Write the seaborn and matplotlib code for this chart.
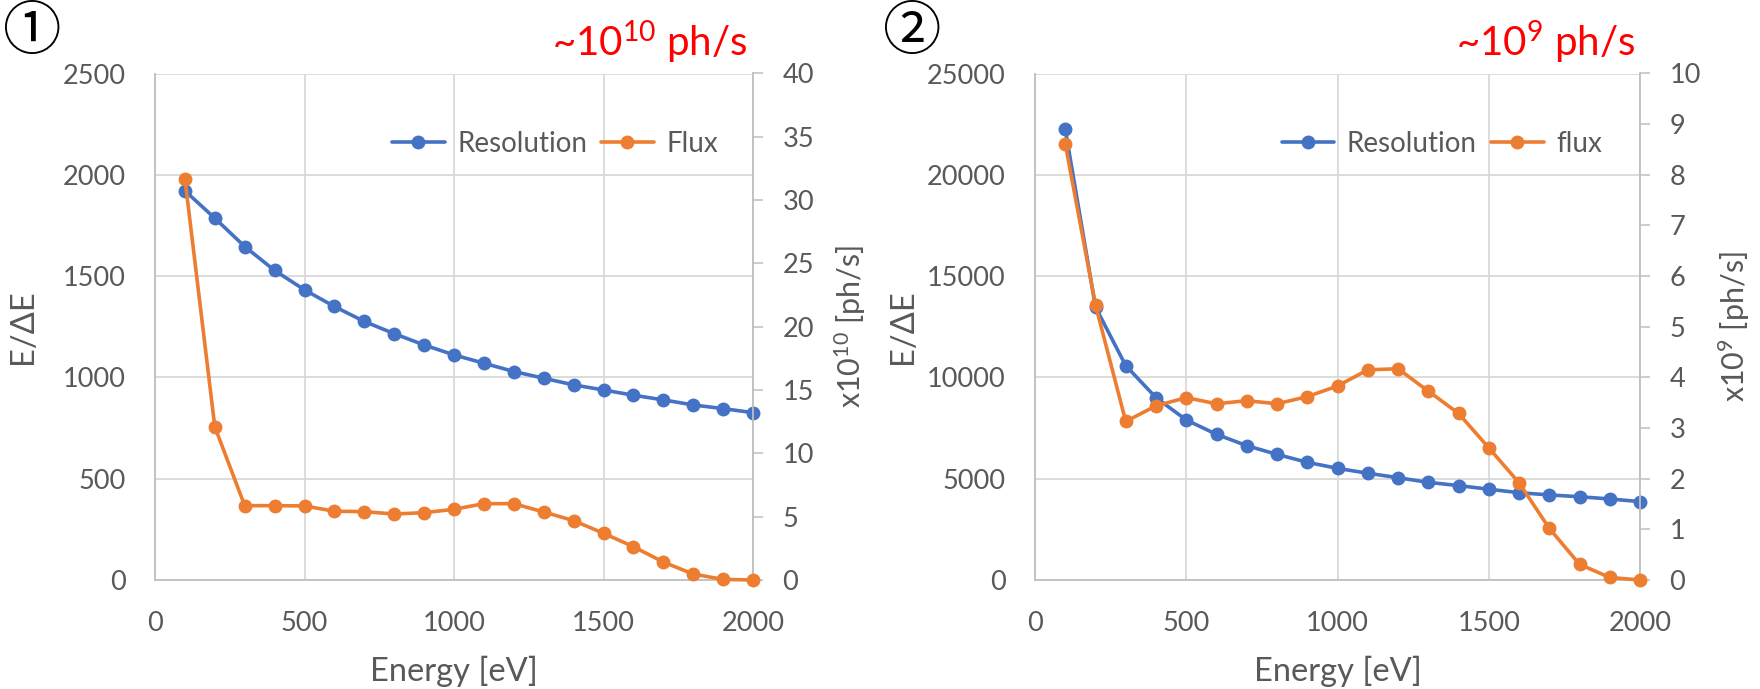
import matplotlib
matplotlib.use("Agg")
import matplotlib.pyplot as plt
import seaborn as sns
import pandas as pd
from matplotlib.lines import Line2D

# ---------------- data ----------------
energy = [100, 200, 300, 400, 500, 600, 700, 800, 900, 1000,
          1100, 1200, 1300, 1400, 1500, 1600, 1700, 1800, 1900, 2000]

res1 = [1921, 1786, 1646, 1528, 1432, 1350, 1276, 1216, 1160, 1111,
        1070, 1029, 996, 963, 938, 912, 889, 864, 846, 826]
flux1 = [31.7, 12.1, 5.87, 5.87, 5.85, 5.43, 5.40, 5.21, 5.32, 5.58,
         6.03, 6.03, 5.37, 4.69, 3.69, 2.63, 1.42, 0.47, 0.05, 0.0]

res2 = [22250, 13470, 10580, 9000, 7900, 7190, 6630, 6200, 5810, 5510,
        5270, 5050, 4820, 4660, 4480, 4310, 4200, 4110, 4000, 3870]
flux2 = [8.61, 5.43, 3.13, 3.44, 3.60, 3.48, 3.54, 3.48, 3.62, 3.83,
         4.15, 4.17, 3.73, 3.29, 2.61, 1.92, 1.02, 0.31, 0.05, 0.0]

xticks = [0, 500, 1000, 1500, 2000]
yticks1 = [0, 500, 1000, 1500, 2000, 2500]
yticks1r = [0, 5, 10, 15, 20, 25, 30, 35, 40]
yticks2 = [0, 5000, 10000, 15000, 20000, 25000]
yticks2r = list(range(0, 11))

panel_marks = ["①", "②"]
red_notes = ["~10$^{10}$ ph/s", "~10$^{9}$ ph/s"]
right_labels = ["x10$^{10}$ [ph/s]", "x10$^{9}$ [ph/s]"]
legend_names = [("Resolution", "Flux"), ("Resolution", "flux")]

# ---------------- style ----------------
sns.set_theme(style="white")
plt.rcParams["font.family"] = ["Lato", "DejaVu Sans"]
plt.rcParams["mathtext.fontset"] = "custom"
plt.rcParams["mathtext.rm"] = "Lato"
plt.rcParams["mathtext.it"] = "Lato:italic"
plt.rcParams["mathtext.bf"] = "Lato:bold"

BLUE = "#4472C4"
ORANGE = "#ED7D31"
TXT = "#595959"
GRID = "#D9D9D9"
SPINE = "#BFBFBF"
TICK_FS = 19.5
LEG_FS = 20
LAB_FS = 23.5

W, H = 1760, 689
fig = plt.figure(figsize=(W / 100, H / 100), dpi=100)

panels = [
    dict(left=155, right=753, res=res1, flux=flux1, yt=yticks1, ytr=yticks1r,
         mark_x=32),
    dict(left=1035, right=1640, res=res2, flux=flux2, yt=yticks2, ytr=yticks2r,
         mark_x=912),
]
top_px, bot_px = 73.5, 580

for i, p in enumerate(panels):
    ax = fig.add_axes([p["left"] / W, 1 - bot_px / H,
                       (p["right"] - p["left"]) / W, (bot_px - top_px) / H])
    axr = ax.twinx()

    df = pd.DataFrame({"Energy": energy, "res": p["res"], "flux": p["flux"]})
    sns.lineplot(data=df, x="Energy", y="res", ax=ax, color=BLUE, marker="o",
                 markersize=10, markeredgewidth=0, linewidth=2.6,
                 clip_on=False, zorder=5)
    sns.lineplot(data=df, x="Energy", y="flux", ax=axr, color=ORANGE, marker="o",
                 markersize=10, markeredgewidth=0, linewidth=2.6,
                 clip_on=False, zorder=5)

    ax.set_xlim(0, 2000)
    ax.set_ylim(p["yt"][0], p["yt"][-1])
    axr.set_ylim(p["ytr"][0], p["ytr"][-1])
    ax.set_xticks(xticks)
    ax.set_yticks(p["yt"])
    axr.set_yticks(p["ytr"])

    ax.grid(True, color=GRID, linewidth=1.3)
    ax.set_axisbelow(True)
    axr.grid(False)

    ax.spines["top"].set_visible(False)
    axr.spines["top"].set_visible(False)
    for s in ["left", "bottom"]:
        ax.spines[s].set_color(SPINE)
        ax.spines[s].set_linewidth(1.3)
    ax.spines["right"].set_visible(False)
    axr.spines["left"].set_visible(False)
    axr.spines["bottom"].set_visible(False)
    axr.spines["right"].set_color(SPINE)
    axr.spines["right"].set_linewidth(1.3)

    ax.tick_params(axis="y", length=0, pad=21, labelsize=TICK_FS, labelcolor=TXT)
    ax.tick_params(axis="x", length=0, pad=22, labelsize=TICK_FS, labelcolor=TXT)
    axr.tick_params(axis="y", length=7.2, width=1.1, color=SPINE, pad=14,
                    labelsize=TICK_FS, labelcolor=TXT, direction="out")

    ax.set_xlabel("Energy [eV]", fontsize=LAB_FS, color=TXT)
    ax.xaxis.set_label_coords(0.5, -(671 - bot_px) / (bot_px - top_px))
    ax.xaxis.label.set_va("center")
    ax.set_ylabel("E/ΔE", fontsize=LAB_FS, color=TXT)
    ax.yaxis.set_label_coords(-(p["left"] - (38 if i == 0 else 918)) /
                              (p["right"] - p["left"]), 0.5)
    axr.set_ylabel(right_labels[i], fontsize=LAB_FS - 1.5, color=TXT)
    axr.yaxis.set_label_coords(1 + ((832 if i == 0 else 1716) - p["right"]) /
                               (p["right"] - p["left"]), 0.5)

    handles = [
        Line2D([], [], color=BLUE, marker="o", markersize=10, markeredgewidth=0,
               linewidth=2.6),
        Line2D([], [], color=ORANGE, marker="o", markersize=10, markeredgewidth=0,
               linewidth=2.6),
    ]
    if ax.get_legend():
        ax.get_legend().remove()
    if axr.get_legend():
        axr.get_legend().remove()
    axr.legend(handles, legend_names[i], ncol=2, frameon=False,
               fontsize=LEG_FS, labelcolor=TXT, handlelength=1.9,
               handletextpad=0.45, columnspacing=0.5,
               loc="center right",
               bbox_to_anchor=(((1602 if i else 718) - p["left"]) /
                               (p["right"] - p["left"]),
                               (bot_px - 144) / (bot_px - top_px)),
               borderaxespad=0, borderpad=0)

    fig.text(p["mark_x"] / W, 1 - 32 / H, panel_marks[i],
             family=["Noto Sans CJK JP", "DejaVu Sans"], fontsize=42,
             ha="center", va="center", color="black")
    fig.text((p["right"] - 5) / W, 1 - 42 / H, red_notes[i], fontsize=29,
             ha="right", va="center", color="#FF0000")

fig.savefig("out.png", dpi=100)
